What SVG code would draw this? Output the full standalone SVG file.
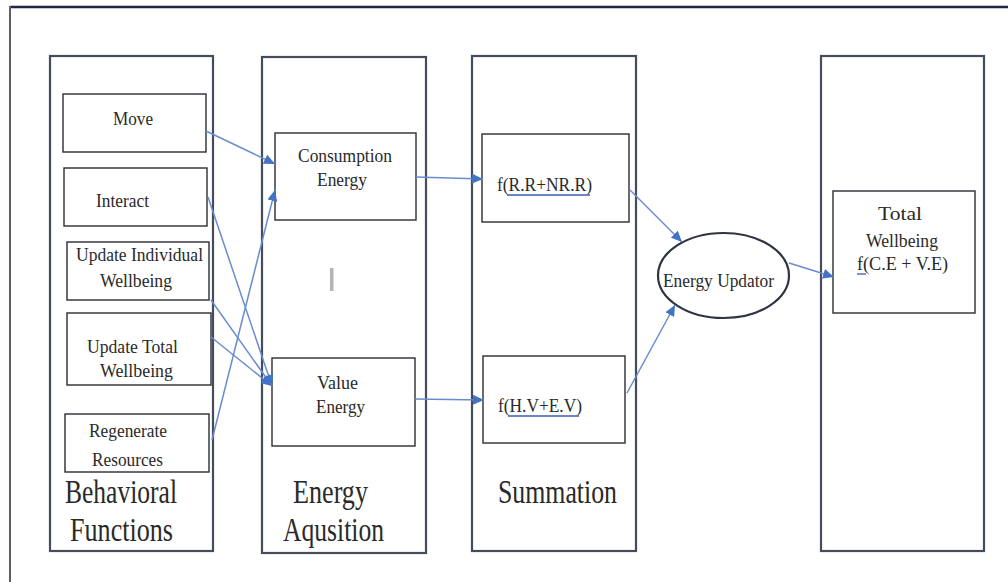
<svg xmlns="http://www.w3.org/2000/svg" width="1008" height="582" viewBox="0 0 1008 582" font-family="'Liberation Serif', 'DejaVu Serif', serif">
  <style>
    .col { fill: #ffffff; stroke: #454c5c; stroke-width: 2.2; }
    .box { fill: #ffffff; stroke: #2a2d33; stroke-width: 1.4; }
    text { font-family: 'Liberation Serif', 'DejaVu Serif', serif; fill: #2a2a2a; }
    .lbl { font-size: 19px; }
    .big { font-size: 33px; }
    .conn { fill: none; stroke: #6a8ccf; stroke-width: 1.5; marker-end: url(#arrow); }
    .ul { stroke: #3a5cb5; stroke-width: 1.3; }
  </style>
  <defs>
    <marker id="arrow" markerUnits="userSpaceOnUse" markerWidth="12" markerHeight="10" refX="11" refY="5" orient="auto">
      <path d="M0,0 L11,5 L0,10 z" fill="#4472c4"/>
    </marker>
  </defs>

  <rect width="1008" height="582" fill="#ffffff"/>

  <!-- page frame -->
  <g id="frame">
    <line x1="10" y1="7" x2="1008" y2="7" stroke="#1f2744" stroke-width="2.5"/>
    <line x1="10" y1="6" x2="10" y2="582" stroke="#5a5f6a" stroke-width="2"/>
  </g>

  <!-- column 1: behavioural functions -->
  <g id="behavioral-functions">
    <rect class="col" x="50" y="56" width="163" height="495"/>
    <text class="big" x="65" y="503" textLength="112" lengthAdjust="spacingAndGlyphs">Behavioral</text>
    <text class="big" x="70" y="541" textLength="103" lengthAdjust="spacingAndGlyphs">Functions</text>
  </g>
  <g id="move">
    <rect class="box" x="63" y="94" width="143" height="58"/>
    <text class="lbl" x="113" y="125" textLength="40" lengthAdjust="spacingAndGlyphs">Move</text>
  </g>
  <g id="interact">
    <rect class="box" x="64" y="168" width="143" height="58"/>
    <text class="lbl" x="96" y="207" textLength="53" lengthAdjust="spacingAndGlyphs">Interact</text>
  </g>
  <g id="update-individual">
    <rect class="box" x="67" y="242" width="142" height="58"/>
    <text class="lbl" x="76" y="261" textLength="127" lengthAdjust="spacingAndGlyphs">Update Individual</text>
    <text class="lbl" x="100" y="287" textLength="72" lengthAdjust="spacingAndGlyphs">Wellbeing</text>
  </g>
  <g id="update-total">
    <rect class="box" x="67" y="313" width="144" height="72"/>
    <text class="lbl" x="87" y="353" textLength="91" lengthAdjust="spacingAndGlyphs">Update Total</text>
    <text class="lbl" x="100" y="377" textLength="73" lengthAdjust="spacingAndGlyphs">Wellbeing</text>
  </g>
  <g id="regenerate">
    <rect class="box" x="65" y="414" width="144" height="58"/>
    <text class="lbl" x="89" y="437" textLength="78" lengthAdjust="spacingAndGlyphs">Regenerate</text>
    <text class="lbl" x="92" y="466" textLength="71" lengthAdjust="spacingAndGlyphs">Resources</text>
  </g>

  <!-- column 2: energy acquisition -->
  <g id="energy-aquisition">
    <rect class="col" x="262" y="57" width="164" height="496"/>
    <text class="big" x="293" y="503" textLength="75" lengthAdjust="spacingAndGlyphs">Energy</text>
    <text class="big" x="283" y="541" textLength="101" lengthAdjust="spacingAndGlyphs">Aqusition</text>
    <rect x="330" y="268" width="3.5" height="23" fill="#b4b4b4"/>
  </g>
  <g id="consumption-energy">
    <rect class="box" x="275" y="133" width="141" height="87"/>
    <text class="lbl" x="298" y="162" textLength="94" lengthAdjust="spacingAndGlyphs">Consumption</text>
    <text class="lbl" x="317" y="186" textLength="50" lengthAdjust="spacingAndGlyphs">Energy</text>
  </g>
  <g id="value-energy">
    <rect class="box" x="272" y="358" width="143" height="88"/>
    <text class="lbl" x="317" y="389" textLength="41" lengthAdjust="spacingAndGlyphs">Value</text>
    <text class="lbl" x="316" y="413" textLength="49" lengthAdjust="spacingAndGlyphs">Energy</text>
  </g>

  <!-- column 3: summation -->
  <g id="summation">
    <rect class="col" x="472" y="56" width="164" height="495"/>
    <text class="big" x="498" y="503" textLength="119" lengthAdjust="spacingAndGlyphs">Summation</text>
  </g>
  <g id="sum-resources">
    <rect class="box" x="482" y="134" width="147" height="88"/>
    <text class="lbl" x="497" y="191" textLength="95" lengthAdjust="spacingAndGlyphs">f(R.R+NR.R)</text>
    <line class="ul" x1="507" y1="195" x2="590" y2="195"/>
  </g>
  <g id="sum-values">
    <rect class="box" x="483" y="356" width="142" height="87"/>
    <text class="lbl" x="498" y="412" textLength="84" lengthAdjust="spacingAndGlyphs">f(H.V+E.V)</text>
    <line class="ul" x1="508" y1="416" x2="579" y2="416"/>
  </g>

  <!-- energy updator -->
  <g id="energy-updator">
    <ellipse cx="723.5" cy="275.5" rx="65.5" ry="42.5" fill="#ffffff" stroke="#2e3440" stroke-width="2.2"/>
    <text class="lbl" x="663" y="287" textLength="111" lengthAdjust="spacingAndGlyphs">Energy Updator</text>
  </g>

  <!-- column 4: total wellbeing -->
  <g id="wellbeing-column">
    <rect class="col" x="821" y="56" width="163" height="495"/>
  </g>
  <g id="total-wellbeing">
    <rect class="box" x="833" y="191" width="142" height="122"/>
    <text class="lbl" x="878" y="220" textLength="44" lengthAdjust="spacingAndGlyphs">Total</text>
    <text class="lbl" x="866" y="247" textLength="72" lengthAdjust="spacingAndGlyphs">Wellbeing</text>
    <text class="lbl" x="857" y="270" textLength="91" lengthAdjust="spacingAndGlyphs">f(C.E + V.E)</text>
    <line class="ul" x1="857" y1="274" x2="866" y2="274"/>
  </g>

  <!-- connectors -->
  <g id="connectors">
    <path class="conn" d="M206,131 L275,164"/>
    <path class="conn" d="M208,197 L272,386"/>
    <path class="conn" d="M211,300 L272,386"/>
    <path class="conn" d="M211,337 L272,386"/>
    <path class="conn" d="M212,440 L275,190"/>
    <path class="conn" d="M416,177 L483,179"/>
    <path class="conn" d="M415,399 L484,400"/>
    <path class="conn" d="M630,190 L682,242"/>
    <path class="conn" d="M627,393 L675,305"/>
    <path class="conn" d="M789,263 L834,277"/>
  </g>
</svg>
